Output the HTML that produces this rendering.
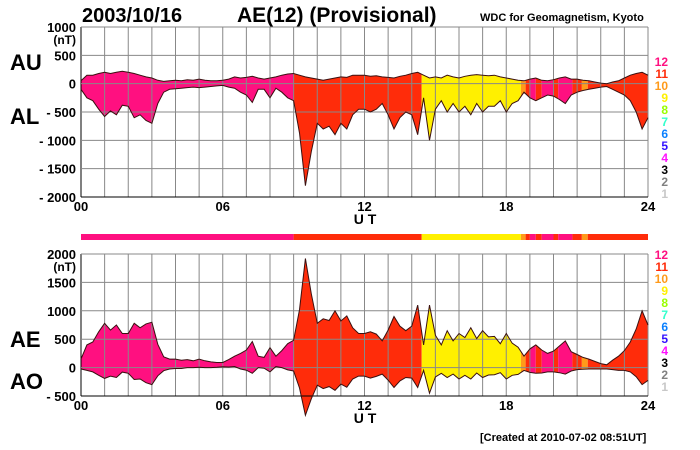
<!DOCTYPE html>
<html><head><meta charset="utf-8"><style>
body{margin:0;background:#fff;width:700px;height:450px;overflow:hidden}
svg{display:block;font-family:"Liberation Sans",Arial,sans-serif;font-weight:bold}
</style></head><body>
<svg id="chart" width="700" height="450" viewBox="0 0 700 450" xmlns="http://www.w3.org/2000/svg">
<text x="82" y="22" font-size="20">2003/10/16</text>
<text x="237" y="22" font-size="21">AE(12) (Provisional)</text>
<text x="480" y="21" font-size="11">WDC for Geomagnetism, Kyoto</text>
<text x="10" y="70" font-size="22">AU</text>
<text x="10" y="124" font-size="22">AL</text>
<text x="10" y="347" font-size="22">AE</text>
<text x="10" y="389" font-size="22">AO</text>
<text x="480" y="441" font-size="11">[Created at 2010-07-02 08:51UT]</text>
<g id="top"></g><g id="bot"></g><g id="bar"></g><g id="legend"></g>
</svg>
<script>
// hours sampled every 0.25h, 0..24
const AU = [50,150,150,180,200,180,200,220,200,180,150,120,100,
60,40,50,60,50,70,60,80,60,50,50,60,
80,120,100,110,130,100,80,100,120,150,170,180,
150,120,100,80,60,80,100,120,110,150,150,150,
130,140,120,110,100,130,150,180,200,150,100,120,
100,150,120,100,130,150,160,150,140,150,120,100,
80,60,50,80,100,60,50,70,100,120,80,80,
60,50,30,10,0,30,50,100,150,180,200,150];
const AL = [-100,-250,-300,-450,-580,-480,-550,-380,-400,-600,-550,-650,-700,
-350,-150,-100,-90,-80,-70,-60,-70,-60,-50,-40,-30,
-60,-80,-150,-200,-330,-100,-100,-250,-80,-150,-250,-300,
-870,-1800,-1200,-700,-800,-750,-900,-700,-800,-550,-450,-450,
-500,-450,-350,-550,-800,-600,-500,-550,-900,-250,-1000,-450,
-300,-500,-350,-500,-400,-550,-350,-500,-400,-400,-300,-500,
-350,-300,-150,-250,-300,-250,-200,-220,-280,-350,-200,-150,
-120,-100,-80,-60,-50,-100,-150,-200,-300,-500,-800,-600];
const segStart = [0,9.0,14.42,18.62,18.82,19.0,19.25,19.5,20.0,20.2,20.8,21.2,21.45];
const segEnd   = [9.0,14.42,18.62,18.82,19.0,19.25,19.5,20.0,20.2,20.8,21.2,21.45,24];
const segLevel = [12,11,9,10,11,12,11,12,11,12,11,10,11];
const topTicks = [1000,500,0,-500,-1000,-1500,-2000];
const topTickLabels = ["1000","500","0","- 500","- 1000","- 1500","- 2000"];
const botTicks = [2000,1500,1000,500,0,-500];
const botTickLabels = ["2000","1500","1000","500","0","- 500"];
const hourLabels = ["00","06","12","18","24"];
const legendLevels = [12,11,10,9,8,7,6,5,4,3,2,1];
const levelColors = {12:"#ff1080",11:"#ff2c0a",10:"#ff9a1a",9:"#fff000",8:"#99ff00",7:"#33ffcc",6:"#0a80ff",5:"#3311ff",4:"#ff11ff",3:"#000",2:"#808080",1:"#c8c8c8"};
const AE = AU.map((u,i)=>u-AL[i]);
const AO = AU.map((u,i)=>(u+AL[i])/2);

const NS="http://www.w3.org/2000/svg";
const X0=81,X1=648;
const xs=h=>X0+(X1-X0)*h/24;
function mk(tag,attrs,parent){const e=document.createElementNS(NS,tag);for(const k in attrs)e.setAttribute(k,attrs[k]);parent.appendChild(e);return e;}

function panel(g,name,yTop,yBot,vmax,vmin,ticks,labels,upper,lower){
  const ys=v=>yTop+(vmax-v)*(yBot-yTop)/(vmax-vmin);
  const pts=i=>xs(i*0.25);
  let d="M"+upper.map((v,i)=>pts(i).toFixed(1)+","+ys(v).toFixed(1)).join("L");
  for(let i=lower.length-1;i>=0;i--)d+="L"+pts(i).toFixed(1)+","+ys(lower[i]).toFixed(1);
  d+="Z";
  segStart.forEach((s,k)=>{
    const cid=name+"-clip-"+k;
    const cp=mk("clipPath",{id:cid},g);
    mk("rect",{x:xs(s),y:yTop-30,width:xs(segEnd[k])-xs(s),height:yBot-yTop+60},cp);
    const p=mk("path",{d:d,fill:levelColors[segLevel[k]],"clip-path":"url(#"+cid+")"},g);
    
    
  });
  for(let h=0;h<=24;h++){
    const l=mk("line",{x1:xs(h),x2:xs(h),y1:yTop,y2:yBot,stroke:h==0?"#000":"#888","stroke-width":1},g);
    
    
  }
  ticks.forEach((t,i)=>{
    const l=mk("line",{x1:X0,x2:X1,y1:ys(t),y2:ys(t),stroke:i==ticks.length-1?"#000":"#888","stroke-width":1},g);
    
    
    const tx=mk("text",{x:76,y:ys(t)+5,"text-anchor":"end","font-size":13},g);
    tx.textContent=labels[i];
    
    
  });
  const nt=mk("text",{x:76,y:ys(ticks[0])+17,"text-anchor":"end","font-size":12},g);
  nt.textContent="(nT)";
  
  
  [upper,lower].forEach(arr=>{
    const l=mk("polyline",{points:arr.map((v,i)=>pts(i).toFixed(1)+","+ys(v).toFixed(1)).join(" "),fill:"none",stroke:"#3a1010","stroke-width":1},g);
    
    
  });
  hourLabels.forEach((lab,i)=>{
    const tx=mk("text",{x:xs(i*6),y:yBot+14,"text-anchor":"middle","font-size":13},g);
    tx.textContent=lab;
    
    
  });
  const ut=mk("text",{x:365,y:yBot+27,"text-anchor":"middle","font-size":14},g);
  ut.textContent="U T";
  
  
}
panel(document.getElementById("top"),"top",27,197,1000,-2000,topTicks,topTickLabels,AU,AL);
panel(document.getElementById("bot"),"bottom",254,396,2000,-500,botTicks,botTickLabels,AE,AO);

const bar=document.getElementById("bar");
segStart.forEach((s,k)=>{
  const r=mk("rect",{x:xs(s),y:234,width:xs(segEnd[k])-xs(s),height:6,fill:levelColors[segLevel[k]]},bar);
  
  
});
const lg=document.getElementById("legend");
legendLevels.forEach((lv,i)=>{
  const t=mk("text",{x:668,y:66+i*12,"text-anchor":"end","font-size":12,fill:levelColors[lv]},lg);
  t.textContent=String(lv);
  
  
});
const lg2=lg.cloneNode(true);
lg2.setAttribute("transform","translate(0,193)");
lg2.querySelectorAll("text").forEach(t=>{});
lg.parentNode.appendChild(lg2);
</script>
</body></html>
